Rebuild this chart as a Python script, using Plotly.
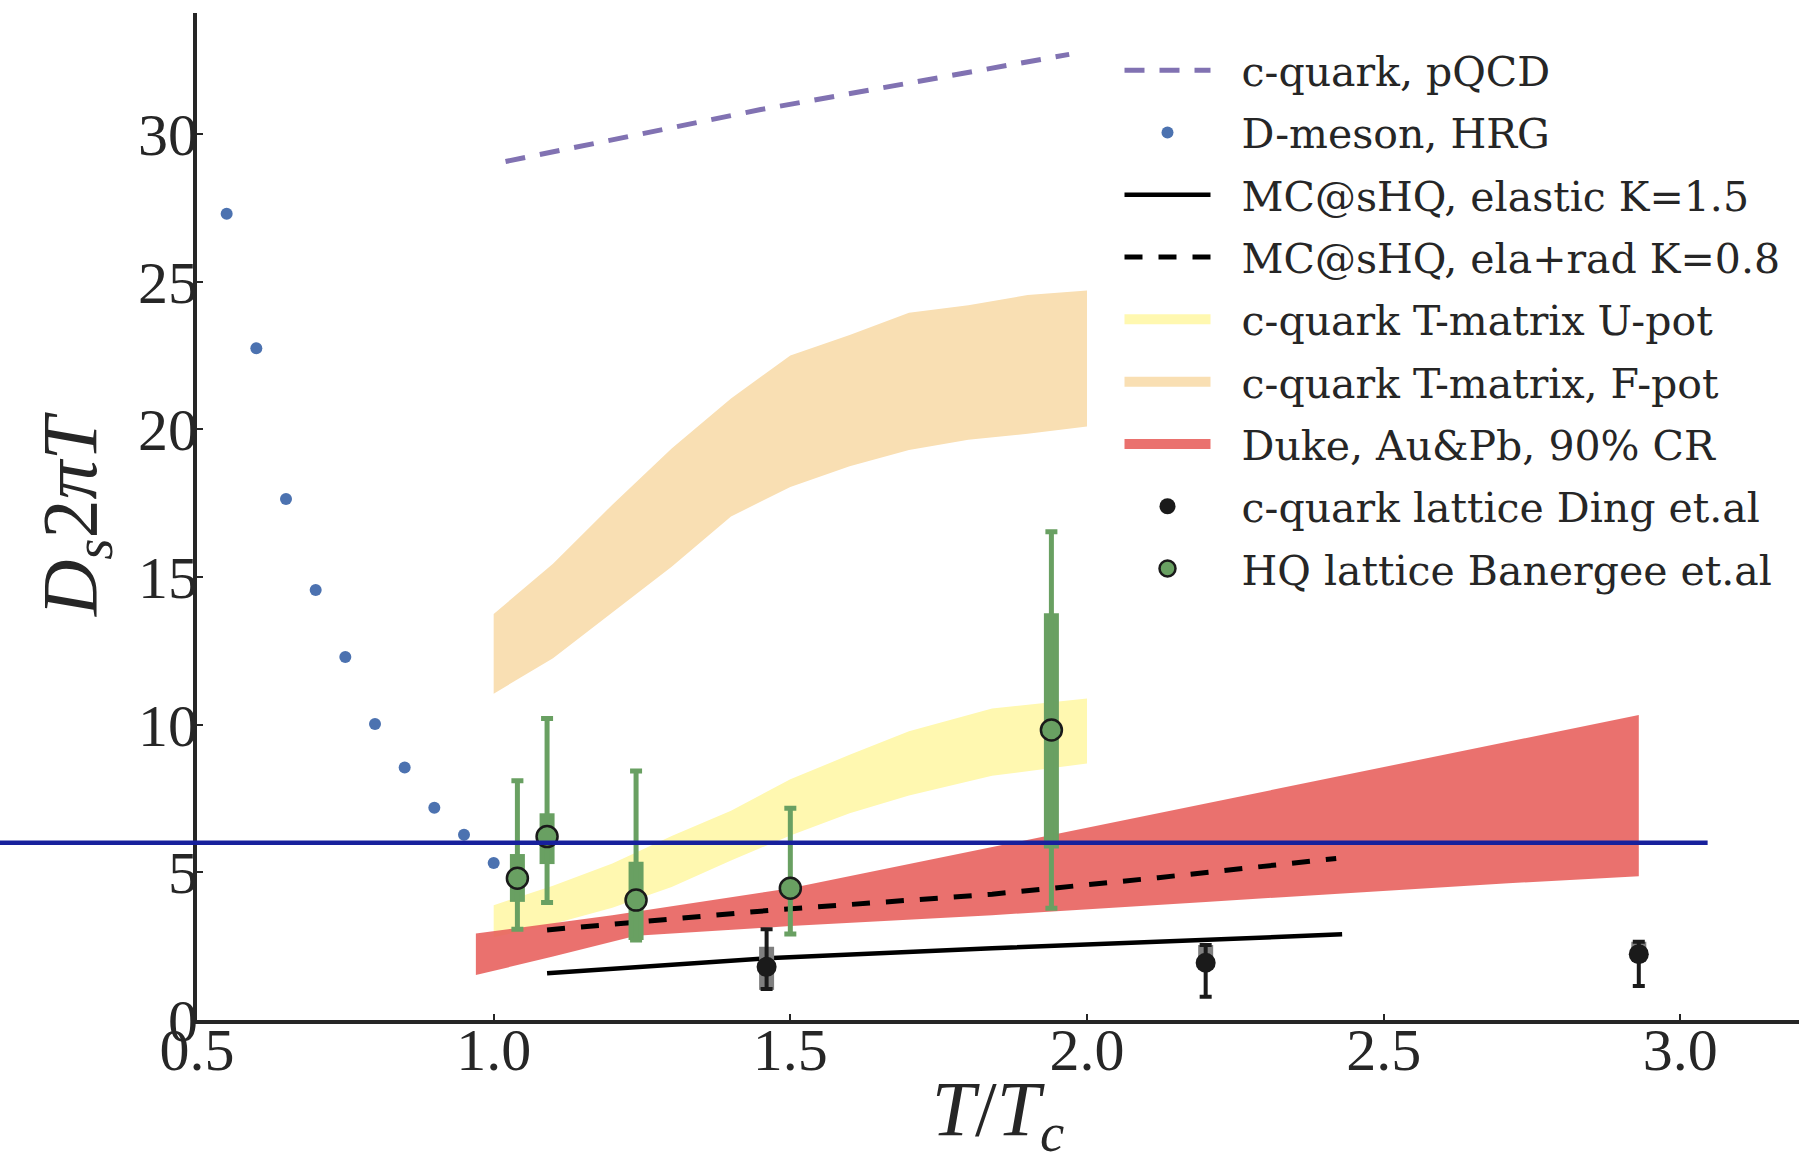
import plotly.graph_objects as go

# ---------------- data ----------------
hrg_x = [0.55, 0.60, 0.65, 0.70, 0.75, 0.80, 0.85, 0.90, 0.95, 1.00]
hrg_y = [27.3, 22.75, 17.64, 14.56, 12.29, 10.02, 8.55, 7.19, 6.27, 5.32]

pqcd_x = [1.02, 1.45, 1.97]
pqcd_y = [29.07, 30.83, 32.70]

elastic_x = [1.09, 1.46, 1.84, 2.12, 2.43]
elastic_y = [1.58, 2.09, 2.43, 2.65, 2.90]

elarad_x = [1.09, 1.47, 1.84, 2.12, 2.42]
elarad_y = [3.05, 3.72, 4.26, 4.82, 5.47]

upot_x = [1.0, 1.1, 1.2, 1.3, 1.4, 1.5, 1.6, 1.7, 1.84, 2.0]
upot_hi = [3.89, 4.55, 5.30, 6.23, 7.09, 8.15, 8.98, 9.78, 10.55, 10.89]
upot_lo = [2.80, 3.25, 3.80, 4.50, 5.40, 6.25, 7.00, 7.60, 8.27, 8.69]

fpot_x = [1.0, 1.1, 1.2, 1.3, 1.4, 1.5, 1.6, 1.7, 1.8, 1.9, 2.0]
fpot_hi = [13.75, 15.45, 17.45, 19.35, 21.05, 22.50, 23.20, 23.95, 24.20, 24.55, 24.70]
fpot_lo = [11.05, 12.25, 13.80, 15.35, 17.05, 18.05, 18.75, 19.30, 19.65, 19.85, 20.10]

duke_hi_x = [0.97, 1.20, 1.50, 1.84, 2.20, 2.50, 2.93]
duke_hi = [2.93, 3.55, 4.46, 5.85, 7.33, 8.57, 10.33]
duke_lo_x = [0.97, 1.10, 1.24, 1.50, 1.84, 2.20, 2.71, 2.93]
duke_lo = [1.52, 2.15, 2.85, 3.18, 3.55, 4.00, 4.63, 4.87]

ding_x = [1.46, 2.20, 2.93]
ding_y = [1.80, 1.94, 2.23]
ding_hi = [3.07, 2.54, 2.65]
ding_lo = [1.05, 0.79, 1.15]
ding_sys_hi = [2.48, 2.54, 2.65]
ding_sys_lo = [1.02, 1.70, 2.00]

ban_x = [1.04, 1.09, 1.24, 1.50, 1.94]
ban_y = [4.80, 6.21, 4.06, 4.46, 9.82]
ban_thin_hi = [8.10, 10.21, 8.43, 7.17, 16.53]
ban_thin_lo = [3.07, 3.98, 2.71, 2.91, 3.78]
ban_thick_hi = [5.62, 7.00, 5.36, 4.75, 13.77]
ban_thick_lo = [4.00, 5.28, 2.71, 4.17, 5.81]

ref_line_y = 6.0
ref_line_xend = 3.046

x_range = [0.5, 3.2]
y_range = [0.0, 34.1]
x_ticks = [0.5, 1.0, 1.5, 2.0, 2.5, 3.0]
y_ticks = [0, 5, 10, 15, 20, 25, 30]

labels = ["c-quark, pQCD", "D-meson, HRG", "MC@sHQ, elastic K=1.5",
          "MC@sHQ, ela+rad K=0.8", "c-quark T-matrix U-pot",
          "c-quark T-matrix, F-pot", "Duke, Au&Pb, 90% CR",
          "c-quark lattice Ding et.al", "HQ lattice Banergee et.al"]

# ---------------- styling ----------------
C_FPOT = "#F9DFB3"
C_UPOT = "#FFF8B0"
C_DUKE = "rgba(232,98,94,0.9)"
C_GREEN = "#69A062"
C_HRG = "#4C72B0"
C_PQCD = "#8172B2"
C_BLUE = "#17209C"
C_DARK = "#262626"
PAD = "\u00a0\u00a0"

W, H = 1799, 1163
ML, MR, MT, MB = 197, 0, 13, 143
PW = W - ML - MR
PH = H - MT - MB


def band(xh, yh, xl, yl):
    return list(xh) + list(xl)[::-1], list(yh) + list(yl)[::-1]


def errs(y, hi, lo):
    return [h - v for h, v in zip(hi, y)], [v - l for v, l in zip(y, lo)]


fig = go.Figure()

# bands
bx, by = band(fpot_x, fpot_hi, fpot_x, fpot_lo)
fig.add_trace(go.Scatter(x=bx, y=by, fill="toself", fillcolor=C_FPOT, mode="lines",
                         line=dict(width=0), showlegend=False, hoverinfo="skip"))
bx, by = band(upot_x, upot_hi, upot_x, upot_lo)
fig.add_trace(go.Scatter(x=bx, y=by, fill="toself", fillcolor=C_UPOT, mode="lines",
                         line=dict(width=0), showlegend=False, hoverinfo="skip"))
bx, by = band(duke_hi_x, duke_hi, duke_lo_x, duke_lo)
fig.add_trace(go.Scatter(x=bx, y=by, fill="toself", fillcolor=C_DUKE, mode="lines",
                         line=dict(width=0), showlegend=False, hoverinfo="skip"))

# legend-only entries for bands
for i, (lab, col) in enumerate([(labels[4], C_UPOT), (labels[5], C_FPOT), (labels[6], C_DUKE)]):
    fig.add_trace(go.Scatter(x=[None], y=[None], mode="lines", name=PAD + lab,
                             line=dict(color=col, width=10),
                             legendgroup=lab, legendrank=5 + i))

# lines
fig.add_trace(go.Scatter(x=pqcd_x, y=pqcd_y, mode="lines", name=PAD + labels[0],
                         line=dict(color=C_PQCD, width=5, dash="20px,15px"),
                         legendgroup=labels[0], legendrank=1))
fig.add_trace(go.Scatter(x=hrg_x, y=hrg_y, mode="markers", name=PAD + labels[1],
                         marker=dict(color=C_HRG, size=12),
                         legendgroup=labels[1], legendrank=2))
fig.add_trace(go.Scatter(x=elastic_x, y=elastic_y, mode="lines", name=PAD + labels[2],
                         line=dict(color="black", width=4.5),
                         legendgroup=labels[2], legendrank=3))
fig.add_trace(go.Scatter(x=elarad_x, y=elarad_y, mode="lines", name=PAD + labels[3],
                         line=dict(color="black", width=5, dash="18px,16px"),
                         legendgroup=labels[3], legendrank=4))

# Ding lattice points
up, dn = errs(ding_y, ding_sys_hi, ding_sys_lo)
fig.add_trace(go.Scatter(x=ding_x, y=ding_y, mode="markers", showlegend=False,
                         marker=dict(color="rgba(0,0,0,0)", size=1),
                         error_y=dict(type="data", symmetric=False, array=up, arrayminus=dn,
                                      color="#7f7f7f", thickness=15, width=0),
                         hoverinfo="skip"))
up, dn = errs(ding_y, ding_hi, ding_lo)
fig.add_trace(go.Scatter(x=ding_x, y=ding_y, mode="markers", name=PAD + labels[7],
                         marker=dict(color="#1a1a1a", size=20),
                         error_y=dict(type="data", symmetric=False, array=up, arrayminus=dn,
                                      color="#1a1a1a", thickness=4, width=6),
                         legendgroup=labels[7], legendrank=8))

# Banerjee lattice points
up, dn = errs(ban_y, ban_thick_hi, ban_thick_lo)
fig.add_trace(go.Scatter(x=ban_x, y=ban_y, mode="markers", showlegend=False,
                         marker=dict(color="rgba(0,0,0,0)", size=1),
                         error_y=dict(type="data", symmetric=False, array=up, arrayminus=dn,
                                      color=C_GREEN, thickness=15, width=0),
                         hoverinfo="skip"))
up, dn = errs(ban_y, ban_thin_hi, ban_thin_lo)
fig.add_trace(go.Scatter(x=ban_x, y=ban_y, mode="markers", name=PAD + labels[8],
                         marker=dict(color=C_GREEN, size=21, line=dict(color="#1a1a1a", width=2.5)),
                         error_y=dict(type="data", symmetric=False, array=up, arrayminus=dn,
                                      color=C_GREEN, thickness=5, width=6),
                         legendgroup=labels[8], legendrank=9))

# horizontal reference line (extends left beyond the axis, as in the original)
fig.add_shape(type="line", xref="paper", yref="y",
              x0=-ML / PW, x1=(ref_line_xend - x_range[0]) / (x_range[1] - x_range[0]),
              y0=ref_line_y, y1=ref_line_y,
              line=dict(color=C_BLUE, width=4.5), layer="above")

axis_common = dict(showline=True, linewidth=4, linecolor=C_DARK, ticks="inside",
                   ticklen=6, tickwidth=2, tickcolor=C_DARK, showgrid=False,
                   zeroline=False, tickfont=dict(family="Liberation Serif", size=60, color=C_DARK))

fig.update_layout(
    template="none",
    width=W, height=H,
    margin=dict(l=ML, r=MR, t=MT, b=MB),
    paper_bgcolor="white", plot_bgcolor="white",
    xaxis=dict(range=x_range, tickvals=x_ticks, ticktext=[f"{v:.1f}" for v in x_ticks],
               ticklabelstandoff=-26,
               title=dict(text="<i>T</i>/<i>T</i><sub><i>c</i></sub>", standoff=57,
                          font=dict(family="Liberation Serif", size=78, color=C_DARK)),
               **axis_common),
    yaxis=dict(range=y_range, tickvals=y_ticks, ticktext=[str(v) for v in y_ticks],
               ticklabelstandoff=-17,
               title=dict(text="<i>D</i><sub><i>s</i></sub>2<i>πT</i>", standoff=17,
                          font=dict(family="Liberation Serif", size=78, color=C_DARK)),
               **axis_common),
    legend=dict(x=(1119.5 - ML) / PW, y=(H - MB - 37) / PH, xanchor="left", yanchor="top",
                font=dict(family="DejaVu Serif", size=41, color=C_DARK),
                bgcolor="rgba(0,0,0,0)", itemwidth=86, tracegroupgap=6, traceorder="grouped"),
    showlegend=True,
)

fig.write_html("out.html")
